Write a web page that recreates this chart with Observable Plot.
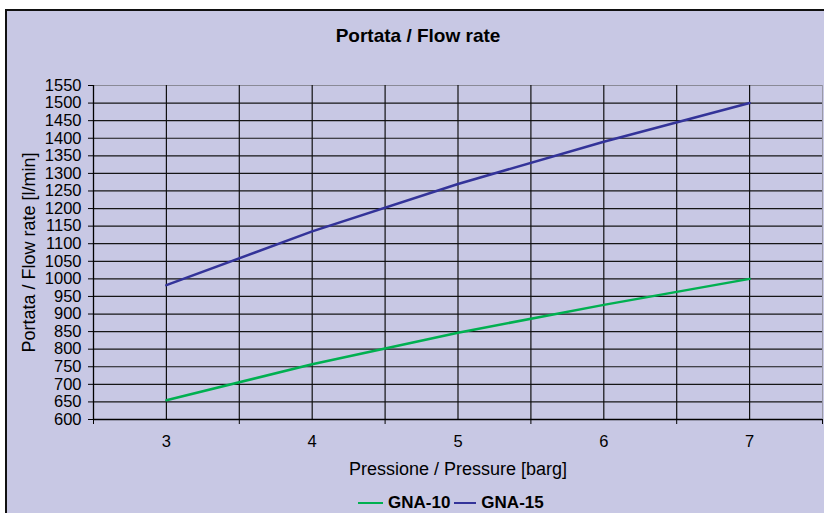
<!DOCTYPE html>
<html>
<head>
<meta charset="utf-8">
<script src="https://cdn.jsdelivr.net/npm/d3@7"></script>
<script src="https://cdn.jsdelivr.net/npm/@observablehq/plot@0.6"></script>
<style>
  html, body { margin: 0; padding: 0; background: #fff; width: 824px; height: 513px; overflow: hidden; }
  body { position: relative; font-family: Arial, "Liberation Sans", sans-serif; }
  #frame { position: absolute; left: 5px; top: 9px; width: 840px; height: 520px; box-sizing: border-box;
           border: 2px solid #111; background: #C8C8E4; }
  #title { position: absolute; left: 0; width: 836px; top: 25px; text-align: center; font-weight: bold;
           font-size: 19px; color: #000; }
  #chart { position: absolute; left: 0; top: 60px; }
  #legend { position: absolute; left: 358px; top: 493px; display: flex; align-items: center;
            font-weight: bold; font-size: 17px; color: #000; white-space: nowrap; }
  #legend .sw { display: inline-block; height: 0; border-top: 2.5px solid; margin-right: 5px; }
  #legend .item { display: flex; align-items: center; margin-right: 4px; }
</style>
</head>
<body>
<div id="frame"></div>
<div id="title"></div>
<div id="chart"></div>
<div id="legend"></div>
<script>
const titleText = "Portata / Flow rate";
const xLabel = "Pressione / Pressure [barg]";
const yLabel = "Portata / Flow rate [l/min]";
const pressure = [3, 4, 5, 6, 7];
const gna10 = [655, 757, 847, 926, 1000];
const gna15 = [982, 1135, 1270, 1390, 1500];
const seriesNames = ["GNA-10", "GNA-15"];
const seriesColors = ["#00B050", "#333399"];
const xDomain = [2.5, 7.5];
const yDomain = [600, 1550];
const yTicks = [600, 650, 700, 750, 800, 850, 900, 950, 1000, 1050, 1100, 1150, 1200, 1250, 1300, 1350, 1400, 1450, 1500, 1550];
const xTickLabels = [3, 4, 5, 6, 7];
const xGrid = [3, 3.5, 4, 4.5, 5, 5.5, 6, 6.5, 7];
const xTickMarks = [2.5, 3.5, 4.5, 5.5, 6.5, 7.5];

document.getElementById("title").textContent = titleText;

const data = [];
pressure.forEach((p, i) => {
  data.push({p, q: gna10[i], s: seriesNames[0]});
});
pressure.forEach((p, i) => {
  data.push({p, q: gna15[i], s: seriesNames[1]});
});

const chart = Plot.plot({
  width: 824,
  height: 420,
  marginLeft: 93,
  marginRight: 2,
  marginTop: 25,
  marginBottom: 61,
  style: {background: "transparent", fontFamily: "Arial, 'Liberation Sans', sans-serif", color: "#000"},
  x: {type: "linear", domain: xDomain},
  y: {type: "linear", domain: yDomain},
  color: {domain: seriesNames, range: seriesColors},
  marks: [
    Plot.frame({stroke: "#9a9aa8"}),
    Plot.ruleY(yTicks, {stroke: d => d === yDomain[1] ? "#8a8a96" : "#161616", strokeWidth: 1.2}),
    Plot.ruleX(xGrid, {stroke: "#111", strokeWidth: 1.2}),
    Plot.ruleX([xDomain[0]], {stroke: "#000", strokeWidth: 1.3}),
    Plot.ruleY([yDomain[0]], {stroke: "#000", strokeWidth: 1.3}),
    Plot.axisY({ticks: yTicks, tickSize: 5, tickPadding: 7, fontSize: 16.5, label: null, tickFormat: d => String(d)}),
    Plot.axisX({ticks: xTickMarks, tickSize: 5, tickFormat: () => "", label: null}),
    Plot.axisX({ticks: xTickLabels, tickSize: 0, tickPadding: 16, fontSize: 16.5, label: null, tickFormat: d => String(d)}),
    Plot.text([xLabel], {frameAnchor: "bottom", dy: 50, lineAnchor: "middle", text: d => d, fontSize: 18, fill: "#000"}),
    Plot.text([yLabel], {frameAnchor: "left", dx: -64, rotate: -90, textAnchor: "middle", lineAnchor: "middle", text: d => d, fontSize: 18, fill: "#000"}),
    Plot.line(data, {x: "p", y: "q", stroke: "s", z: "s", strokeWidth: 2.5})
  ]
});
document.getElementById("chart").appendChild(chart);

const legend = document.getElementById("legend");
seriesNames.forEach((name, i) => {
  const item = document.createElement("span");
  item.className = "item";
  const sw = document.createElement("span");
  sw.className = "sw";
  sw.style.borderTopColor = seriesColors[i];
  sw.style.width = (i === 0 ? 25 : 22) + "px";
  item.appendChild(sw);
  const lab = document.createElement("span");
  lab.textContent = name;
  item.appendChild(lab);
  legend.appendChild(item);
});
</script>
</body>
</html>
